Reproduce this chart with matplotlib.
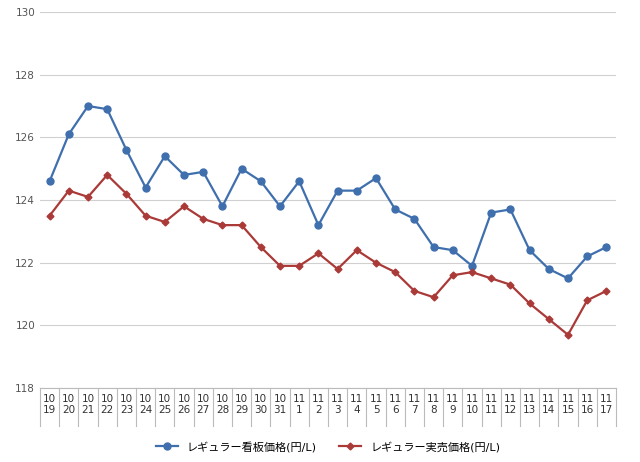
import matplotlib.pyplot as plt

months = [10]*13 + [11]*17
days = list(range(19, 32)) + list(range(1, 18))
kanban = [124.6, 126.1, 127.0, 126.9, 125.6, 124.4, 125.4, 124.8, 124.9, 123.8,
          125.0, 124.6, 123.8, 124.6, 123.2, 124.3, 124.3, 124.7, 123.7, 123.4,
          122.5, 122.4, 121.9, 123.6, 123.7, 122.4, 121.8, 121.5, 122.2, 122.5]
jissai = [123.5, 124.3, 124.1, 124.8, 124.2, 123.5, 123.3, 123.8, 123.4, 123.2,
          123.2, 122.5, 121.9, 121.9, 122.3, 121.8, 122.4, 122.0, 121.7, 121.1,
          120.9, 121.6, 121.7, 121.5, 121.3, 120.7, 120.2, 119.7, 120.8, 121.1]
labels = [f"{m}\n{d}" for m, d in zip(months, days)]

plt.rcParams['font.family'] = ['DejaVu Sans', 'Noto Sans CJK JP']
fig = plt.figure(figsize=(6.4, 4.62), dpi=100)
ax = fig.add_axes([0.0625, 0.16, 0.9, 0.814])
x = list(range(len(labels)))
ax.plot(x, kanban, color='#3f6fad', marker='o', ms=5, lw=1.6, label='レギュラー看板価格(円/L)')
ax.plot(x, jissai, color='#aa3a38', marker='D', ms=3.5, lw=1.6, label='レギュラー実売価格(円/L)')
ax.set_xlim(-0.5, len(x) - 0.5)
ax.set_ylim(118, 130)
ax.set_yticks(range(118, 131, 2))
ax.set_xticks(x)
ax.set_xticklabels(labels, fontsize=7.5)
ax.tick_params(axis='y', labelsize=7.5, colors='#555555', length=0)
ax.tick_params(axis='x', colors='#333333', length=0, pad=4)
ax.grid(axis='y', color='#d0d0d0', lw=0.8)
for i in range(len(x) + 1):
    ax.axvline(i - 0.5, ymin=-0.1, ymax=0, color='#bbbbbb', lw=0.8, clip_on=False)
for s in ['top', 'right', 'left']:
    ax.spines[s].set_visible(False)
ax.spines['bottom'].set_color('#bbbbbb')
ax.legend(loc='upper center', bbox_to_anchor=(0.5, -0.115), ncol=2, frameon=False, fontsize=8)
fig.savefig('out.png')
